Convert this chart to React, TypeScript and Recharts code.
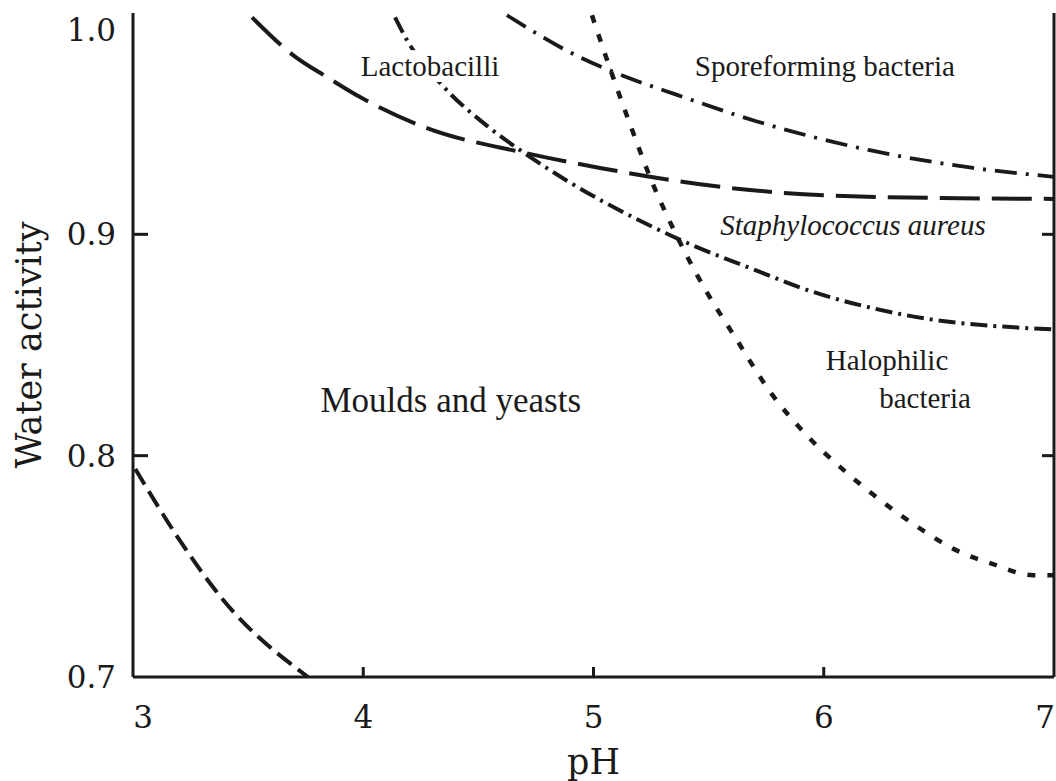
import { LineChart, Line, XAxis, YAxis, ReferenceDot } from 'recharts'

// [pH, water activity]
const staphylococcus = [
  [3.517, 0.998], [3.695, 0.981], [3.843, 0.971], [3.986, 0.962], [4.277, 0.948],
  [4.694, 0.937], [5.028, 0.930], [5.68, 0.920], [6.19, 0.917], [7.0, 0.916],
]
const moulds = [[3.01, 0.794], [3.195, 0.763], [3.39, 0.735], [3.76, 0.700]]
const lactobacilli = [
  [4.138, 0.998], [4.194, 0.987], [4.346, 0.967], [4.55, 0.948], [4.724, 0.935],
  [5.345, 0.899], [5.723, 0.883], [5.897, 0.876], [6.331, 0.864], [7.0, 0.857],
]
const sporeforming = [
  [4.624, 0.999], [4.941, 0.980], [5.145, 0.971], [5.363, 0.963], [5.71, 0.951],
  [6.2, 0.938], [6.648, 0.930], [7.0, 0.926],
]
const halophilic = [
  [4.993, 0.999], [5.085, 0.971], [5.172, 0.946], [5.245, 0.926], [5.363, 0.899],
  [5.497, 0.873], [5.606, 0.855], [5.78, 0.827], [5.91, 0.811], [6.114, 0.791],
  [6.257, 0.779], [6.405, 0.768], [6.561, 0.758], [6.735, 0.751], [6.909, 0.746],
  [7.0, 0.746],
]

const xTicks = [3, 4, 5, 6, 7]
const yTicks = [0.7, 0.8, 0.9, 1.0]

// region names and where they sit (pH, aw)
const regionLabels = [
  { text: 'Lactobacilli', ph: 4.29, aw: 0.976, size: 29, italic: false, bg: true },
  { text: 'Sporeforming bacteria', ph: 6.005, aw: 0.976, size: 29, italic: false, bg: false },
  { text: 'Staphylococcus aureus', ph: 6.127, aw: 0.904, size: 29, italic: true, bg: false },
  { text: 'Halophilic', ph: 6.275, aw: 0.843, size: 29, italic: false, bg: false },
  { text: 'bacteria', ph: 6.44, aw: 0.826, size: 29, italic: false, bg: false },
  { text: 'Moulds and yeasts', ph: 4.38, aw: 0.825, size: 35, italic: false, bg: false },
]

const toPoints = (arr: number[][]) => arr.map(([ph, aw]) => ({ ph, aw }))

const INK = '#1a1a1a'
const AXIS_FONT = '"DejaVu Serif", serif'
const TEXT_FONT = '"Liberation Serif", "Times New Roman", serif'

function LeftTick({ x, y, payload }: any) {
  const v = payload.value
  const inner = v > 0.71 && v < 0.99
  const dy = v > 0.99 ? 17 : 0
  return (
    <g>
      {inner && <line x1={x} x2={x + 15} y1={y} y2={y} stroke={INK} strokeWidth={3} />}
      <text x={x - 17} y={y + dy + 11} textAnchor="end" fontFamily={AXIS_FONT} fontSize={31} fill={INK}>
        {v.toFixed(1)}
      </text>
    </g>
  )
}

function RightTick({ x, y, payload }: any) {
  const v = payload.value
  if (!(v > 0.71 && v < 0.99)) return <g />
  return <line x1={x} x2={x - 12} y1={y} y2={y} stroke={INK} strokeWidth={3} />
}

function BottomTick({ x, y, payload }: any) {
  const v = payload.value
  const inner = v > 3 && v < 7
  const dx = v === 3 ? 10 : v === 7 ? -9 : 0
  return (
    <g>
      {inner && <line x1={x} x2={x} y1={y} y2={y - 10} stroke={INK} strokeWidth={3} />}
      <text x={x + dx} y={y + 51} textAnchor="middle" fontFamily={AXIS_FONT} fontSize={31} fill={INK}>
        {v}
      </text>
    </g>
  )
}

function regionLabel(item: (typeof regionLabels)[number]) {
  return (props: any) => {
    const vb = props.viewBox
    const cx = vb.x + vb.width / 2
    const cy = vb.y + vb.height / 2
    const w = item.text.length * item.size * 0.42
    return (
      <g>
        {item.bg && <rect x={cx - w / 2 - 6} y={cy - item.size * 0.55} width={w + 12} height={item.size * 1.1} fill="#fff" />}
        <text
          x={cx}
          y={cy + item.size * 0.33}
          textAnchor="middle"
          fontFamily={TEXT_FONT}
          fontSize={item.size}
          fontStyle={item.italic ? 'italic' : 'normal'}
          fill={INK}
        >
          {item.text}
        </text>
      </g>
    )
  }
}

export default function App() {
  return (
    <div style={{ position: 'absolute', left: 0, top: 0, background: '#fff' }}>
      <LineChart width={1056} height={781} margin={{ top: 13, right: 1, bottom: 44, left: 13 }}>
        <XAxis
          dataKey="ph"
          type="number"
          domain={[3, 7]}
          ticks={xTicks}
          allowDataOverflow
          height={60}
          axisLine={{ stroke: INK, strokeWidth: 3 }}
          tickLine={false}
          tickSize={0}
          tickMargin={0}
          tick={<BottomTick />}
          interval={0}
          label={{ value: 'pH', position: 'bottom', offset: 12, style: { fontFamily: AXIS_FONT, fontSize: 35, fill: INK } }}
        />
        <XAxis
          xAxisId="top"
          orientation="top"
          dataKey="ph"
          type="number"
          domain={[3, 7]}
          height={0}
          tick={false}
          tickLine={false}
          axisLine={{ stroke: INK, strokeWidth: 3 }}
        />
        <YAxis
          type="number"
          domain={[0.7, 1.0]}
          ticks={yTicks}
          allowDataOverflow
          width={120}
          axisLine={{ stroke: INK, strokeWidth: 3 }}
          tickLine={false}
          tickSize={0}
          tickMargin={0}
          tick={<LeftTick />}
          interval={0}
          label={{
            value: 'Water activity',
            angle: -90,
            position: 'insideLeft',
            offset: 16,
            style: { textAnchor: 'middle', fontFamily: AXIS_FONT, fontSize: 35, fill: INK },
          }}
        />
        <YAxis
          yAxisId="right"
          orientation="right"
          type="number"
          domain={[0.7, 1.0]}
          ticks={yTicks}
          allowDataOverflow
          width={1}
          axisLine={{ stroke: INK, strokeWidth: 3 }}
          tickLine={false}
          tickSize={0}
          tickMargin={0}
          tick={<RightTick />}
          interval={0}
        />

        <Line data={toPoints(staphylococcus)} dataKey="aw" type="monotone" stroke={INK} strokeWidth={4}
          strokeDasharray="40 12" dot={false} isAnimationActive={false} />
        <Line data={toPoints(moulds)} dataKey="aw" type="monotone" stroke={INK} strokeWidth={4}
          strokeDasharray="18 8" dot={false} isAnimationActive={false} />
        <Line data={toPoints(lactobacilli)} dataKey="aw" type="monotone" stroke={INK} strokeWidth={4}
          strokeDasharray="17 6 3 6" dot={false} isAnimationActive={false} />
        <Line data={toPoints(sporeforming)} dataKey="aw" yAxisId="right" type="monotone" stroke={INK} strokeWidth={3.8}
          strokeDasharray="22 9 3 9" dot={false} isAnimationActive={false} />
        <Line data={toPoints(halophilic)} dataKey="aw" type="monotone" stroke={INK} strokeWidth={4.5}
          strokeDasharray="8 12" dot={false} isAnimationActive={false} />

        {regionLabels.map((item) => (
          <ReferenceDot key={item.text} x={item.ph} y={item.aw} r={1} fill="none" stroke="none"
            label={regionLabel(item)} />
        ))}
      </LineChart>
    </div>
  )
}
